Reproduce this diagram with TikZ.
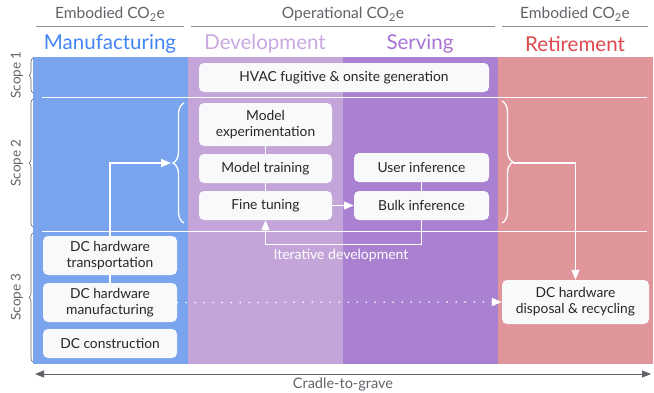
\documentclass[tikz,border=0pt]{standalone}
\usepackage{fontspec}
\setmainfont{Lato}
\usetikzlibrary{arrows.meta,decorations.pathreplacing}

\definecolor{manublau}{HTML}{7AA4EE}
\definecolor{devlila}{HTML}{C4A5D9}
\definecolor{servlila}{HTML}{AA80D0}
\definecolor{retrot}{HTML}{E0959B}
\definecolor{titelblau}{HTML}{4285F4}
\definecolor{titeldev}{HTML}{C9A7E0}
\definecolor{titelserv}{HTML}{A772D4}
\definecolor{titelret}{HTML}{E0474F}
\definecolor{kastenweiss}{HTML}{F8F9FA}
\definecolor{textgrau}{HTML}{5F6368}

\tikzset{
	kasten/.style={fill=kastenweiss, rounded corners=5pt, inner sep=0pt, align=center,
		text=black!85, font=\fontsize{13.8}{16}\selectfont},
	verbindung/.style={white, line width=1.3pt},
	pfeil/.style={verbindung, -{Triangle[length=10pt,width=8pt]}},
	klammer/.style={white, line width=1.3pt, decorate, decoration={brace, amplitude=11pt}},
	scopeklammer/.style={textgrau, line width=0.6pt, decorate, decoration={brace, amplitude=4pt}},
	kopf/.style={textgrau, font=\fontsize{15.5}{18}\selectfont},
	spalte/.style={font=\fontsize{20.5}{23}\selectfont},
	scopetext/.style={textgrau, rotate=90, font=\fontsize{13.5}{15}\selectfont}
}

\begin{document}
\begin{tikzpicture}[x=1pt,y=-1pt]
	
	\useasboundingbox (0,0) rectangle (654,392);
	
	% Spalten
	\fill[manublau] (33,57) rectangle (188,364);
	\fill[devlila] (188,57) rectangle (343,364);
	\fill[servlila] (343,57) rectangle (498,364);
	\fill[retrot] (498,57) rectangle (653,364);
	
	% Kopfzeile
	\node[kopf] (kopfA) at (110,14) {Embodied CO\textsubscript{2}e};
	\node[kopf] (kopfB) at (343,14) {Operational CO\textsubscript{2}e};
	\node[kopf] (kopfC) at (575,14) {Embodied CO\textsubscript{2}e};
	\draw[textgrau!70, line width=0.8pt] (36,26) -- (184,26);
	\draw[textgrau!70, line width=0.8pt] (191,26) -- (495,26);
	\draw[textgrau!70, line width=0.8pt] (502,26) -- (648,26);
	
	% Spaltentitel
	\node[spalte, text=titelblau] (manu) at (110,44) {Manufacturing};
	\node[spalte, text=titeldev] (dev) at (265,44) {Development};
	\node[spalte, text=titelserv] (serv) at (420,44) {Serving};
	\node[spalte, text=titelret] (ret) at (575,44) {Retirement};
	
	% Trennlinien der Scopes
	\draw[white, line width=0.8pt] (42,97) -- (647,97);
	\draw[white, line width=0.8pt] (42,231) -- (647,231);
	
	% Scopes beschriften
	\draw[scopeklammer] (33,93) -- (33,58);
	\draw[scopeklammer] (33,227) -- (33,99);
	\draw[scopeklammer] (33,362) -- (33,233);
	\node[scopetext] (scope1) at (17,75) {Scope 1};
	\node[scopetext] (scope2) at (17,163) {Scope 2};
	\node[scopetext] (scope3) at (17,297) {Scope 3};
	
	% Kaesten
	\node[kasten, minimum width=290pt, minimum height=29pt] (hvac) at (344,77.5) {HVAC fugitive \& onsite generation};
	\node[kasten, minimum width=133pt, minimum height=43pt] (exp) at (265.5,124.5) {Model\\experimentation};
	\node[kasten, minimum width=133pt, minimum height=29pt] (training) at (265.5,168.5) {Model training};
	\node[kasten, minimum width=133pt, minimum height=29pt] (fine) at (265.5,205.5) {Fine tuning};
	\node[kasten, minimum width=135pt, minimum height=29pt] (user) at (421.5,167.5) {User inference};
	\node[kasten, minimum width=135pt, minimum height=29pt] (bulk) at (421.5,205.5) {Bulk inference};
	\node[kasten, minimum width=134pt, minimum height=39pt] (transport) at (110,255.5) {DC hardware\\transportation};
	\node[kasten, minimum width=134pt, minimum height=39pt] (herstellung) at (110,302.5) {DC hardware\\manufacturing};
	\node[kasten, minimum width=134pt, minimum height=29pt] (bau) at (110,343.5) {DC construction};
	\node[kasten, minimum width=147pt, minimum height=44pt] (entsorgung) at (575.5,302) {DC hardware\\disposal \& recycling};
	
	% Klammern fuer Scope 2
	\draw[klammer] (184,223) -- (184,103);
	\draw[klammer] (502,101) -- (502,223);
	\coordinate (klammerL) at (171,163);
	\coordinate (klammerR) at (513,163);
	
	% Verbindungen
	\draw[verbindung] (exp) -- (training);
	\draw[verbindung] (training) -- (fine);
	\draw[verbindung] (user) -- (bulk);
	\draw[verbindung] (transport) -- (herstellung);
	\draw[pfeil] (fine) -- (bulk);
	\draw[pfeil] (bulk.south) -- ++(0,24) -| (fine.south);
	\node[white, font=\fontsize{14}{16}\selectfont] (iter) at (341,256) {Iterative development};
	\draw[pfeil] (transport.north) |- (klammerL);
	\draw[pfeil] (klammerR) -| (entsorgung.north);
	\draw[pfeil, line width=1.8pt, line cap=round, dash pattern=on 0pt off 9pt] (herstellung.east) -- (entsorgung.west);
	
	% Lebenszyklus
	\draw[textgrau, line width=0.8pt, {Triangle[length=9pt,width=7pt]}-{Triangle[length=9pt,width=7pt]}] (35,374) -- (651,374);
	\node[textgrau, font=\fontsize{14.5}{16}\selectfont] (wiege) at (343,384) {Cradle-to-grave};
	
\end{tikzpicture}
\end{document}
